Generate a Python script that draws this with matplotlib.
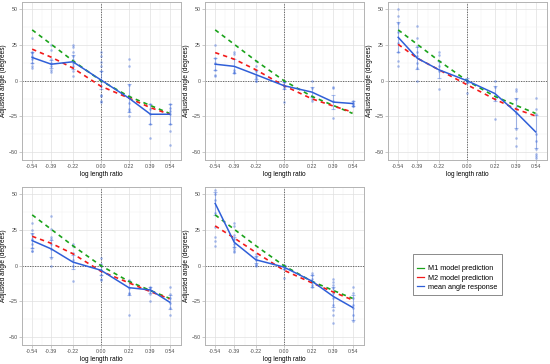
import numpy as np
import matplotlib
matplotlib.use("Agg")
import matplotlib.pyplot as plt
from matplotlib.lines import Line2D

plt.rcParams['font.family'] = ['Liberation Sans', 'DejaVu Sans']

# x positions (log length ratio)
ratios = [-0.54, -0.39, -0.22, 0.00, 0.22, 0.39, 0.54]
tick_labels = ["-0.54", "-0.39", "-0.22", "0.00", "0.22", "0.39", "0.54"]

# model predictions per panel
m1_pred = [35.5, 25.4, 13.9, 0.0, -11.0, -17.4, -22.9]
m2_pred = [
    [22.0, 16.4, 8.8, -3.9, -12.2, -18.9, -23.5],
    [19.6, 15.0, 7.6, -3.5, -12.7, -17.8, -22.0],
    [25.4, 15.7, 7.6, -2.8, -13.0, -20.0, -24.7],
    [20.5, 15.6, 8.3, -3.9, -12.0, -18.2, -23.2],
    [27.8, 19.3, 9.2, -3.2, -12.0, -18.5, -24.0],
]

# mean angle response and error bar half-widths
mean_resp = [
    [16.2, 11.5, 13.2, 0.5, -12.2, -23.5, -23.5],
    [11.5, 10.0, 4.2, -3.5, -8.0, -15.0, -16.0],
    [30.3, 15.7, 7.6, 0.0, -9.0, -22.4, -35.8],
    [17.5, 11.7, 2.5, -3.2, -15.4, -17.0, -25.5],
    [43.5, 16.3, 4.1, -1.0, -10.8, -21.6, -29.2],
]
err_resp = [
    [4.0, 3.0, 5.0, 6.0, 10.0, 7.0, 7.0],
    [4.0, 5.0, 3.0, 2.5, 3.5, 5.0, 2.0],
    [10.5, 7.5, 6.0, 1.5, 5.5, 10.5, 11.5],
    [5.0, 6.0, 5.0, 3.0, 5.0, 2.0, 5.0],
    [8.0, 3.5, 2.5, 1.5, 4.0, 7.0, 9.0],
]

# individual responses per panel, per x position
responses = [
    [[30, 20, 19, 17, 15, 12, 10, 9],
     [25, 21.5, 15, 12, 10, 7.6, 6],
     [25, 23.8, 20, 17, 14.5, 12, 10, 7, 3],
     [20, 17, 13, 10, 6.5, 0, -4, -10, -11, -14, -15],
     [15, 10, -3, -11, -15.5, -20, -21, -25],
     [-16, -20, -23.5, -30, -40],
     [-16, -19, -21, -23.5, -30, -35, -45]],
    [[25, 15.7, 12, 7.6, 4, 3.5],
     [20, 18.7, 7.6, 5.8, 5],
     [13.4, 10, 6.5, 3.5, 2, 0, 0],
     [0, -1, -4, -5, -15],
     [0, -5, -11, -13, -14],
     [-4.4, -5, -14, -26],
     [-14, -15.5, -16.6, -18, -18]],
    [[50, 45, 40, 34, 26, 20.3, 14, 10],
     [38, 29.5, 24, 20.3, 17, 12, 9, 0],
     [20, 18, 13.4, 10, 6.5, -5.8],
     [0.7, 0, -1, -8.5],
     [0, -4.4, -13, -27],
     [-6, -7.4, -13, -19, -22.4, -34, -40, -45.6],
     [-12, -20, -23.5, -37, -42, -47.8, -51, -53, -54]],
    [[30, 25, 22, 18.7, 15, 12.6, 10.5, 10],
     [35, 25.5, 19.8, 18.7, 15, 11.7, 5, 0],
     [15, 14, 9, 3.7, 0, -11],
     [5, 1.4, -3.2, -6.6, -9, -10],
     [-10, -11, -15.8, -19.3, -20, -34.5],
     [-14.7, -15.8, -18, -19.5, -24.4],
     [-14.7, -19.5, -22.4, -25.9, -29.4, -34.5]],
    [[53, 50, 46, 37, 27, 20, 17.5, 14],
     [30, 28, 21.4, 18.7, 15, 12.9, 11.7, 10.5, 9.4],
     [8.3, 6, 3.7, 1.4, 0.2, 0],
     [0.7, -1, -2, -8.5],
     [-4.8, -6.7, -9, -11.3, -13.6, -14.7],
     [-9, -11.3, -13.6, -15.9, -19.3, -22.8, -27.4, -30.8, -34.3, -40],
     [-14.7, -19.3, -22.8, -27.4, -29.7, -34.3, -38.9]],
]

green = "#1aa31a"
red = "#f21a1a"
blue = "#2f5fd8"

W, H = 550, 364
fig = plt.figure(figsize=(W / 100, H / 100), dpi=100)

col_left = [22, 205, 388]
row_top = [2, 187]
aw, ah = 159, 158

for k in range(5):
    r, c = divmod(k, 3)
    ax = fig.add_axes([col_left[c] / W, (H - row_top[r] - ah) / H, aw / W, ah / H])

    ax.set_xlim(-0.62, 0.63)
    ax.set_ylim(-55.5, 55)
    ax.set_xticks(ratios)
    ax.set_xticklabels(tick_labels)
    ax.set_yticks([-50, -25, 0, 25, 50])
    ax.set_xticks([-0.465, -0.305, -0.11, 0.11, 0.305, 0.465], minor=True)
    ax.set_yticks([-37.5, -12.5, 12.5, 37.5], minor=True)
    ax.grid(which='major', color='#e0e0e0', lw=0.5)
    ax.grid(which='minor', color='#efefef', lw=0.3)
    ax.set_axisbelow(True)
    for s in ax.spines.values():
        s.set_color('#b3b3b3')
        s.set_linewidth(0.7)
    ax.tick_params(which='major', length=2, width=0.5, color='#b3b3b3',
                   labelsize=3.8, labelcolor='#4d4d4d', pad=1)
    ax.tick_params(which='minor', length=0)

    ax.axvline(0, color='#555555', lw=0.6, ls=(0, (1.5, 1.5)), zorder=1)
    ax.axhline(0, color='#555555', lw=0.6, ls=(0, (1.5, 1.5)), zorder=1)

    for xi, vals in zip(ratios, responses[k]):
        ax.scatter([xi] * len(vals), vals, s=3.5, color=blue, alpha=0.4,
                   linewidths=0, zorder=2)
    ax.errorbar(ratios, mean_resp[k], yerr=err_resp[k], fmt='none',
                ecolor=blue, alpha=0.4, elinewidth=0.8, capsize=1.6,
                capthick=0.8, zorder=2)
    ax.plot(ratios, m1_pred, color=green, lw=1.2, ls=(0, (2.6, 2.4)), zorder=3)
    ax.plot(ratios, m2_pred[k], color=red, lw=1.2, ls=(0, (2.6, 2.4)), zorder=3)
    ax.plot(ratios, mean_resp[k], color=blue, lw=1.1, zorder=4)

    ax.set_xlabel("log length ratio", fontsize=4.7, labelpad=1.5)
    ax.set_ylabel("Adjusted angle (degrees)", fontsize=4.7, labelpad=1)

handles = [Line2D([], [], color=green, lw=0.9),
           Line2D([], [], color=red, lw=0.9),
           Line2D([], [], color=blue, lw=0.9)]
leg = fig.legend(handles, ["M1 model prediction", "M2 model prediction",
                           "mean angle response"],
                 loc='center', bbox_to_anchor=(457.5 / W, (H - 274.5) / H),
                 fontsize=5.2, title=" ", title_fontsize=3.5,
                 frameon=True, fancybox=False,
                 handlelength=0.9, handletextpad=0.6, labelspacing=0.3,
                 borderpad=0.6)
leg.get_frame().set_edgecolor('#555555')
leg.get_frame().set_linewidth(0.6)

fig.savefig("out.png", dpi=100)
